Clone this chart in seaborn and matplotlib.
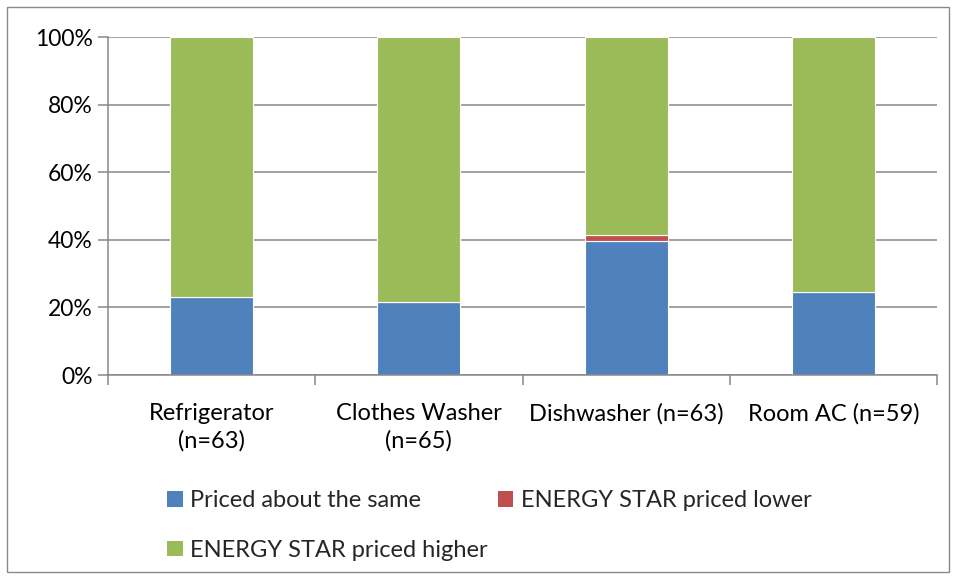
import matplotlib
matplotlib.use("Agg")
import matplotlib.pyplot as plt
from matplotlib.patches import Patch, Rectangle
import seaborn as sns
import numpy as np

categories = ["Refrigerator\n(n=63)", "Clothes Washer\n(n=65)", "Dishwasher (n=63)", "Room AC (n=59)"]
same = [23.0, 21.5, 39.7, 24.5]
lower = [0.0, 0.0, 1.6, 0.0]
higher = [100 - s - l for s, l in zip(same, lower)]
series_names = ["Priced about the same", "ENERGY STAR priced lower", "ENERGY STAR priced higher"]
colors = ["#4F81BD", "#C0504D", "#9BBB59"]
yticks = [0, 20, 40, 60, 80, 100]

sns.set_theme(style="white")
plt.rcParams["font.family"] = ["Lato", "DejaVu Sans"]

fig = plt.figure(figsize=(9.56, 5.79), dpi=100)
ax = fig.add_axes([108 / 956, 1 - 375 / 579, (937 - 108) / 956, (375 - 37) / 579])

grid_col = "#878787"
for v in yticks:
    ax.axhline(v, color=grid_col, lw=1.1, zorder=0)

bottom = np.zeros(len(categories))
for vals, col in zip([same, lower, higher], colors):
    sns.barplot(x=categories, y=vals, bottom=bottom, color=col, width=0.4,
                ax=ax, zorder=2, linewidth=0.8, edgecolor="white", saturation=1)
    bottom = bottom + np.array(vals)

ax.set_xlim(-0.5, 3.5)
ax.set_ylim(0, 100)
ax.set_yticks(yticks)
ax.set_yticklabels([f"{v}%" for v in yticks], fontsize=16.5, color="black")
ax.tick_params(axis="y", direction="out", length=7, width=1.1, color=grid_col, left=True, pad=4)
ax.set_xticks(range(len(categories)))
ax.set_xticklabels(categories, fontsize=17, color="black", linespacing=1.38)
ax.set_xticks([-0.5, 0.5, 1.5, 2.5, 3.5], minor=True)
ax.tick_params(axis="x", which="major", length=0, pad=20)
ax.tick_params(axis="x", which="minor", direction="out", length=7, width=1.1, color=grid_col, bottom=True)
for s in ["top", "right"]:
    ax.spines[s].set_visible(False)
for s in ["left", "bottom"]:
    ax.spines[s].set_color(grid_col)
    ax.spines[s].set_linewidth(1.1)
ax.set_xlabel("")
ax.set_ylabel("")

# legend entries are filled column by column, so order them to read row-wise
order = [0, 2, 1]
handles = [Patch(facecolor=colors[i], edgecolor="none") for i in order]
labels = [series_names[i] for i in order]
fig.legend(handles, labels, loc="upper left", bbox_to_anchor=(158 / 956, 1 - 481 / 579),
           ncol=2, frameon=False, fontsize=17, handlelength=0.65, handleheight=0.65,
           handletextpad=0.3, columnspacing=0.45, labelspacing=1.2, borderaxespad=0)

fig.patches.append(Rectangle((7 / 956, 1 - 572 / 579), 942 / 956, 565 / 579,
                             transform=fig.transFigure, fill=False, edgecolor="#8a8a8a", lw=1.0))

fig.savefig("out.png", dpi=100)
